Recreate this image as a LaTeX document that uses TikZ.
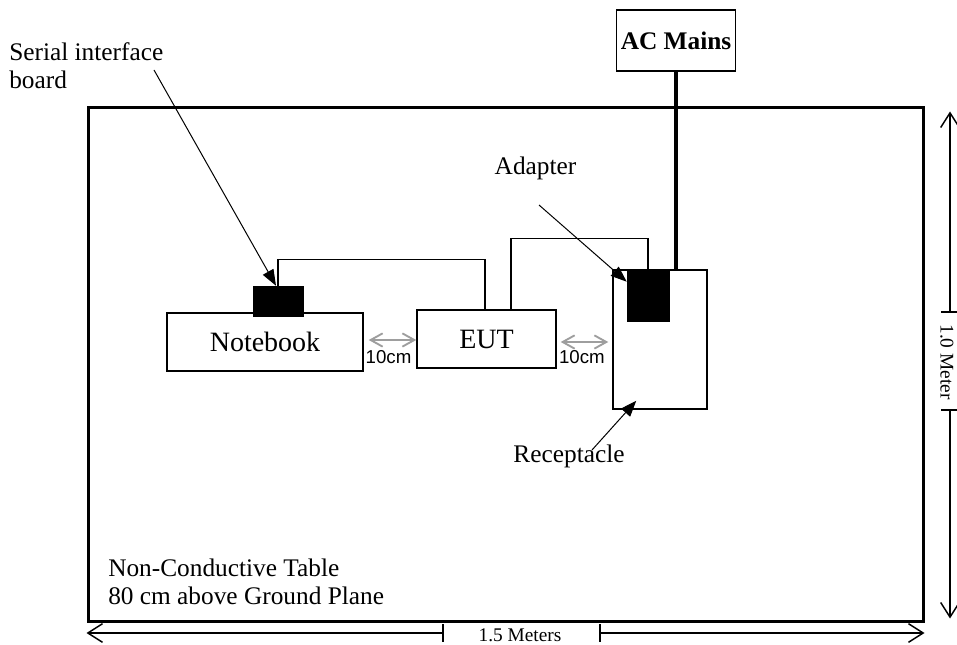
\documentclass[tikz,border=0pt]{standalone}
\usepackage{fontspec}
\setmainfont{Liberation Serif}
\newfontfamily\arialfont{Liberation Sans}
\usetikzlibrary{arrows.meta,calc}
\newcommand{\pxu}{0.75pt}
\tikzset{
	tableedge/.style={draw, line width=2.25pt, inner sep=0pt},
	unit/.style={draw, line width=1.1pt, inner sep=0pt, font=\fontsize{21}{25}\selectfont},
	plug/.style={draw, fill=black, inner sep=0pt},
	cable/.style={line width=1.1pt},
	mains/.style={line width=3pt},
	pointer/.style={line width=0.75pt, -{Triangle[length=12pt,width=9pt]}},
	gap/.style={draw=black!38, line width=1.4pt, {Straight Barb[length=9pt,width=10pt]}-{Straight Barb[length=9pt,width=10pt]}},
	dimline/.style={line width=1.1pt, -{Straight Barb[length=11pt,width=14pt]}},
	dimtick/.style={line width=1.1pt},
	caption/.style={inner sep=0pt, font=\fontsize{19}{21}\selectfont, align=left},
	gaptext/.style={inner sep=0pt, font=\arialfont\fontsize{14}{17}\selectfont},
	dimtext/.style={inner sep=0pt, font=\fontsize{14.5}{17}\selectfont}
}

\begin{document}
\begin{tikzpicture}[x=0.75pt, y=-0.75pt]
	\useasboundingbox (0,0) rectangle (957,645);

	% Draw the table and the units on it
	\node[tableedge, minimum width=835*\pxu, minimum height=513*\pxu] (table) at (505.5,364.5) {};
	\node[unit, font=\bfseries\fontsize{19}{23}\selectfont, minimum width=119*\pxu, minimum height=61*\pxu] (acmains) at (676,40.5) {AC Mains};
	\node[unit, minimum width=94*\pxu, minimum height=139*\pxu] (recept) at (660,339.5) {};
	\node[plug, minimum width=42*\pxu, minimum height=51*\pxu] (adapter) at (648,295.5) {};
	\node[unit, minimum width=196*\pxu, minimum height=58*\pxu] (notebook) at (265,342) {Notebook};
	\node[plug, minimum width=50*\pxu, minimum height=30*\pxu] (serial) at (278,301) {};
	\node[unit, minimum width=139*\pxu, minimum height=58*\pxu] (eut) at (486.5,339) {EUT};

	% Cables
	\draw[mains] (acmains.south) -- (acmains.south |- recept.north);
	\draw[cable] (serial.north) -- ++(0,-26) -| ($(eut.north)+(-1.5,0)$);
	\draw[cable] ($(eut.north)+(24.5,0)$) -- ++(0,-71) -| (adapter.north);

	% 10 cm spacing
	\draw[gap] ($(notebook.east)+(5,-2)$) -- ($(notebook.east -| eut.west)+(0,-2)$) node[gaptext, midway, below=7pt, xshift=-3pt] {10cm};
	\draw[gap] ($(eut.east)+(4,3)$) -- ($(eut.east -| recept.west)+(-4,3)$) node[gaptext, midway, below=6pt, xshift=-2pt] {10cm};

	% Labels with pointers
	\node[caption, anchor=north west] (seriallbl) at (9,42) {Serial interface\\board};
	\coordinate (serialtail) at (154,70);
	\draw[pointer] (serialtail) -- ($(serial.north)+(-2,0)$);

	\node[caption, anchor=base] (adapterlbl) at (535.5,175) {Adapter};
	\coordinate (adaptertail) at (539,205);
	\draw[pointer] (adaptertail) -- ($(adapter.north west)+(0,12)$);

	\node[caption, anchor=base] (receptlbl) at (569,462) {Receptacle};
	\coordinate (recepttail) at (592,450);
	\draw[pointer] (recepttail) -- ($(recept.south west)+(24,-9)$);

	\node[caption, anchor=north west] (tablelbl) at (108,559) {Non-Conductive Table\\80 cm above Ground Plane};

	% 1.5 m dimension
	\node[dimtext, anchor=base] (widthlbl) at (520,641) {1.5 Meters};
	\coordinate (wl) at (443,633);
	\coordinate (wr) at (600,633);
	\draw[dimtick] ($(wl)+(0,-9)$) -- ($(wl)+(0,9)$);
	\draw[dimtick] ($(wr)+(0,-9)$) -- ($(wr)+(0,9)$);
	\draw[dimline] (wl) -- (table.south west |- wl);
	\draw[dimline] (wr) -- (table.south east |- wr);

	% 1.0 m dimension
	\node[dimtext, rotate=-90] (heightlbl) at (947,362) {1.0 Meter};
	\coordinate (ht) at (950,312);
	\coordinate (hb) at (950,410);
	\draw[dimtick] ($(ht)+(-9,0)$) -- ($(ht)+(9,0)$);
	\draw[dimtick] ($(hb)+(-9,0)$) -- ($(hb)+(9,0)$);
	\draw[dimline] (ht) -- ($(ht |- table.north)+(0,5)$);
	\draw[dimline] (hb) -- ($(hb |- table.south)+(0,-4)$);

\end{tikzpicture}
\end{document}
